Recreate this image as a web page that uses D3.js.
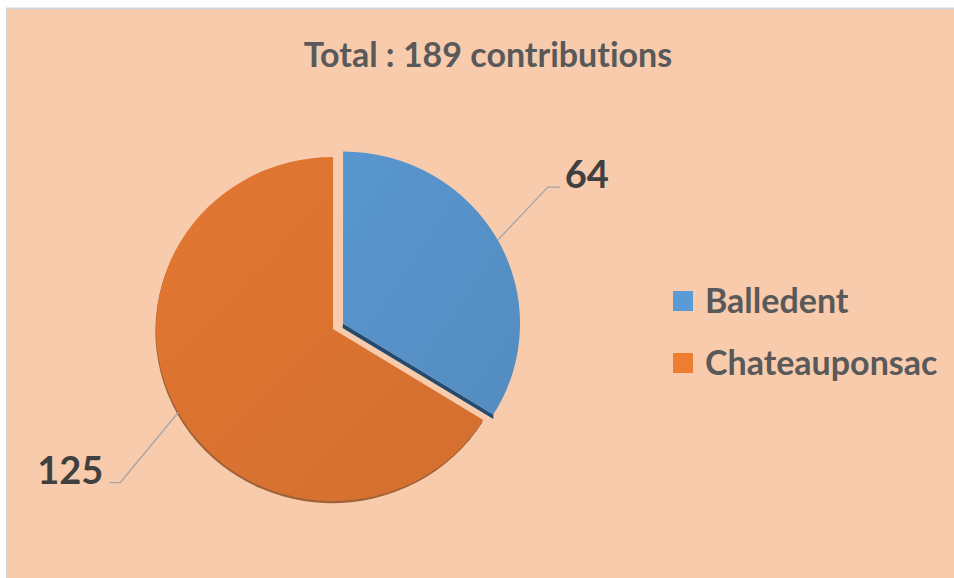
<!DOCTYPE html>
<html>
<head>
<meta charset="utf-8">
<script src="https://cdn.jsdelivr.net/npm/d3@7"></script>
<style>
  html, body { margin: 0; padding: 0; background: #ffffff; overflow: hidden; }
  svg { display: block; }
  text { font-family: Lato, "Open Sans", sans-serif; font-weight: 700; font-variant-ligatures: none; font-feature-settings: "liga" 0; }
</style>
</head>
<body>
<svg id="chart" width="954" height="578"></svg>
<script>
// Contributions per commune
const categories = ["Balledent", "Chateauponsac"];
const values = [64, 125];
const titleText = "Total : 189 contributions";

const sliceColors = ["#5590C6", "#D97230"];
const sideColors = ["#234A70", "#8A4719"];
const legendColors = ["#5B9BD5", "#ED7D31"];

const W = 954, H = 578;
const svg = d3.select("#chart");

// Chart area with a light gray edge on the top and left
svg.append("rect").attr("x", 7).attr("y", 8.5).attr("width", W).attr("height", H)
  .attr("fill", "#F8CBAD");
svg.append("path").attr("d", `M7,${H}V8.5H${W}`)
  .attr("fill", "none").attr("stroke", "#D6D6D6").attr("stroke-width", 2);

// Title
svg.append("text")
  .attr("x", 488).attr("y", 67)
  .attr("text-anchor", "middle")
  .attr("fill", "#595959")
  .style("font-size", "34px")
  .text(titleText);

// Subtle shading on slice faces
const defs = svg.append("defs");
sliceColors.forEach((c, i) => {
  const g = defs.append("linearGradient").attr("id", "grad" + i)
    .attr("x1", "0").attr("y1", "0").attr("x2", "1").attr("y2", "1");
  g.append("stop").attr("offset", "0").attr("stop-color", d3.color(c).brighter(0.12));
  g.append("stop").attr("offset", "1").attr("stop-color", d3.color(c).darker(0.08));
});

const cx = 333, cy = 329, R = 177, squash = 0.972, explode = 11.5;
const pie = d3.pie().sort(null).value(d => d)(values);
const arc = d3.arc().innerRadius(0).outerRadius(R);

const pieG = svg.append("g").attr("transform", `translate(${cx},${cy}) scale(1,${squash})`);

function offsetOf(d, i) {
  if (i !== 0) return [0, 0];
  const a = (d.startAngle + d.endAngle) / 2;
  return [Math.sin(a) * explode, -Math.cos(a) * explode];
}

// Depth of the pie: a thin rim under the main slice's arc
{
  const d = pie[1];
  pieG.append("path").attr("d", arc(d))
    .attr("transform", "translate(-0.6,2.2)")
    .attr("fill", sideColors[1]).attr("opacity", 0.8);
}
// Depth of the pulled-out slice: a band along its closing radial edge
{
  const d = pie[0];
  const [ox, oy] = offsetOf(d, 0);
  const depth = 4.6;
  const ex = Math.sin(d.endAngle) * R, ey = -Math.cos(d.endAngle) * R;
  const band = [[ox, oy], [ox + ex, oy + ey], [ox + ex, oy + ey + depth], [ox - 0.5, oy + depth]];
  pieG.append("path").attr("d", d3.line()(band) + "Z").attr("fill", sideColors[0]);
}
// Slice faces
pie.forEach((d, i) => {
  const [ox, oy] = offsetOf(d, i);
  pieG.append("path").attr("d", arc(d))
    .attr("transform", `translate(${ox},${oy})`)
    .attr("fill", `url(#grad${i})`);
});

// Data labels with leader lines
const labelLayout = [
  { elbow: [50, -53], tail: 12, anchor: "start" },
  { elbow: [-58, 70], tail: -11, anchor: "end" }
];
pie.forEach((d, i) => {
  const [ox, oy] = offsetOf(d, i);
  const a = (d.startAngle + d.endAngle) / 2;
  const sx = cx + ox + Math.sin(a) * R;
  const sy = cy + (oy - Math.cos(a) * R) * squash;
  const L = labelLayout[i];
  const ex = sx + L.elbow[0], ey = sy + L.elbow[1];
  const tx = ex + L.tail;
  svg.append("polyline")
    .attr("points", [[sx, sy], [ex, ey], [tx, ey]].map(p => p.join(",")).join(" "))
    .attr("fill", "none").attr("stroke", "#A5A5A5").attr("stroke-width", 1.3);
  svg.append("text")
    .attr("x", tx + (L.anchor === "start" ? 5 : -6))
    .attr("y", ey + 1)
    .attr("text-anchor", L.anchor)
    .attr("fill", "#404040")
    .style("font-size", "38px")
    .text(d.data);
});

// Legend
const legend = svg.append("g").attr("transform", "translate(673,291)");
categories.forEach((c, i) => {
  const g = legend.append("g").attr("transform", `translate(0,${i * 62})`);
  g.append("rect").attr("width", 20).attr("height", 20).attr("fill", legendColors[i]);
  g.append("text").attr("x", 32).attr("y", 22)
    .attr("fill", "#595959").style("font-size", "34px").text(c);
});
</script>
</body>
</html>
